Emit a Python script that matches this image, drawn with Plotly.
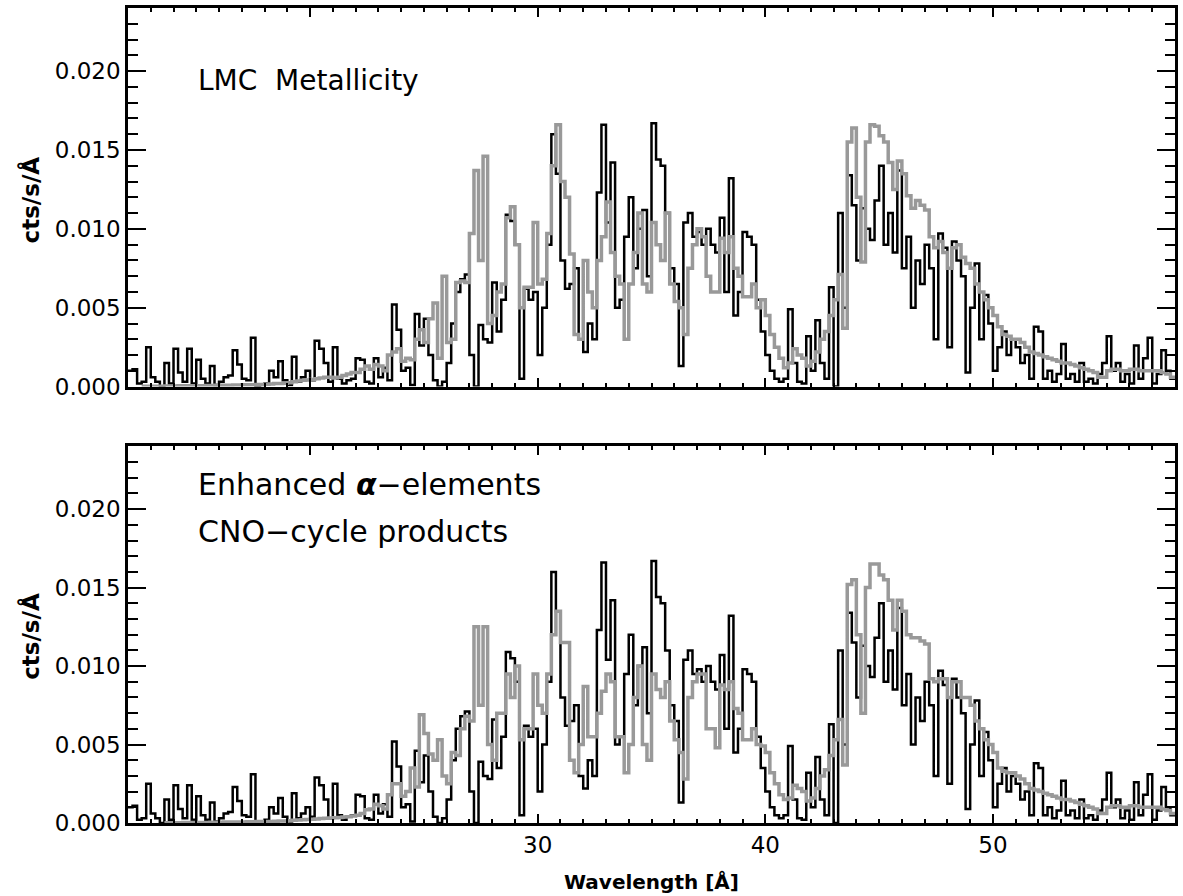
import numpy as np
import plotly.graph_objects as go

# ---------------- data (values in units of 1e-3 cts/s/Å) ----------------
bin_start = 12.0   # Å, left edge of first bin
bin_width = 0.2    # Å

# observed spectrum (same in both panels), bins from 12.0 Å to 58.0 Å
observed_mcts = [
    1.0, 1.1, 0.2, 0.3, 2.5, 0.6, 0.3, 0.0, 1.5, 0.2,      # 12-14
    2.4, 0.9, 0.3, 2.4, 0.2, 1.7, 0.5, 0.2, 1.3, 0.1,      # 14-16
    0.3, 0.6, 0.7, 2.3, 1.4, 0.5, 0.4, 3.1, 0.0, 0.1,      # 16-18
    0.2, 1.0, 0.6, 1.6, 0.4, 0.1, 1.9, 0.3, 0.6, 1.0,      # 18-20
    0.4, 2.9, 2.4, 1.5, 0.3, 2.5, 0.5, 0.2, 0.4, 0.5,      # 20-22
    1.8, 1.7, 0.3, 0.2, 1.8, 0.6, 1.2, 0.4, 5.2, 3.6,      # 22-24
    1.0, 1.2, 0.1, 4.6, 2.6, 4.3, 2.0, 0.4, 0.0, 0.3,      # 24-26
    1.5, 4.0, 6.0, 6.8, 7.1, 2.0, 0.0, 3.9, 3.0, 2.8,      # 26-28
    6.6, 3.5, 5.5, 10.9, 10.5, 9.0, 0.5, 6.2, 5.5, 6.0,    # 28-30
    2.0, 5.0, 9.0, 16.0, 13.5, 8.0, 6.2, 6.5, 7.5, 3.0,    # 30-32
    2.2, 4.0, 3.0, 12.3, 16.6, 10.4, 14.2, 5.0, 5.5, 9.5,  # 32-34
    12.0, 7.5, 10.0, 11.2, 7.0, 16.7, 14.4, 14.0, 11.0, 7.5,  # 34-36
    6.5, 1.3, 10.4, 11.0, 9.5, 9.8, 9.0, 10.0, 9.0, 8.5,   # 36-38
    10.7, 6.0, 13.2, 4.5, 6.0, 9.8, 9.5, 9.0, 5.5, 3.5,    # 38-40
    2.0, 1.0, 0.5, 0.3, 0.5, 4.9, 1.5, 0.3, 0.2, 3.2,      # 40-42
    1.0, 4.2, 1.5, 0.5, 6.3, 0.0, 11.0, 5.0, 13.4, 11.5,   # 42-44
    8.0, 11.3, 10.0, 9.3, 11.8, 14.0, 9.0, 11.0, 8.5, 13.7,  # 44-46
    7.5, 9.5, 5.0, 8.0, 6.5, 9.0, 7.5, 3.0, 9.7, 8.8,      # 46-48
    2.5, 9.2, 8.0, 7.0, 0.9, 5.0, 7.8, 3.0, 5.8, 4.0,      # 48-50
    1.0, 2.5, 3.5, 2.0, 3.0, 2.5, 1.5, 2.0, 0.5, 3.8,      # 50-52
    3.5, 0.5, 1.0, 0.3, 0.8, 2.7, 0.5, 0.8, 0.3, 1.5,      # 52-54
    0.3, 0.5, 0.2, 0.8, 1.5, 3.2, 1.0, 1.5, 0.3, 0.8,      # 54-56
    0.2, 2.6, 0.5, 1.8, 3.1, 0.2, 0.8, 2.3, 1.0, 0.5,      # 56-58
]

# model: LMC metallicity (top panel)
model_lmc_mcts = [
    None, None, None, 0.02, 0.02, 0.03, 0.03, 0.03, 0.04, 0.04,
    0.04, 0.05, 0.05, 0.05, 0.06, 0.06, 0.06, 0.07, 0.07, 0.08,
    0.08, 0.09, 0.09, 0.10, 0.10, 0.11, 0.11, 0.12, 0.13, 0.14,
    0.15, 0.17, 0.19, 0.20, 0.22, 0.25, 0.30, 0.35, 0.40, 0.42,
    0.45, 0.5, 0.55, 0.6, 0.6, 0.55, 0.6, 0.7, 0.8, 0.9,
    0.9, 1.1, 1.3, 1.1, 1.4, 1.3, 1.0, 2.0, 2.2, 2.4,
    1.6, 1.8, 1.7, 3.0, 3.6, 2.8, 4.3, 5.3, 1.8, 7.0,
    2.8, 3.0, 6.6, 6.7, 6.6, 9.7, 13.7, 8.0, 14.6, 4.0,
    4.5, 6.0, 6.5, 10.7, 11.4, 9.0, 5.0, 6.3, 6.3, 10.4,
    6.5, 6.8, 9.7, 14.0, 16.6, 13.0, 12.0, 8.4, 3.3, 3.0,
    8.0, 6.0, 5.0, 8.0, 9.5, 11.7, 8.5, 7.0, 6.5, 3.0,
    6.5, 8.5, 11.0, 6.5, 6.0, 10.4, 9.0, 8.0, 11.0, 6.5,
    5.4, 5.0, 3.3, 7.5, 9.0, 10.0, 9.5, 7.0, 6.0, 6.0,
    9.4, 8.5, 9.5, 7.5, 7.0, 5.7, 5.7, 6.5, 5.0, 5.5,
    4.5, 3.3, 2.5, 1.8, 1.2, 1.5, 2.4, 2.0, 1.8, 1.3,
    1.6, 2.2, 3.0, 3.5, 4.5, 5.5, 7.1, 3.7, 15.5, 16.4,
    12.0, 7.9, 15.5, 16.6, 16.5, 15.9, 15.5, 14.2, 12.5, 14.3,
    13.5, 12.1, 11.3, 11.8, 11.5, 11.2, 9.5, 8.8, 9.2, 8.5,
    7.5, 8.8, 9.0, 8.2, 7.8, 7.5, 6.5, 6.0, 5.5, 5.0,
    4.5, 3.8, 3.3, 3.2, 3.0, 3.0, 2.8, 2.5, 2.2, 2.1,
    2.0, 1.9, 1.8, 1.7, 1.6, 1.5, 1.5, 1.4, 1.3, 1.2,
    1.1, 1.0, 0.9, 0.6, 0.6, 1.0, 1.1, 1.1, 1.0, 1.0,
    1.1, 1.1, 1.0, 1.0, 1.0, 1.0, 1.0, 0.9, 0.8, 0.6,
]

# model: enhanced alpha-elements + CNO-cycle products (bottom panel)
model_alpha_mcts = [
    None, None, None, None, None, None, None, None, 0.02, 0.02,
    0.02, 0.02, 0.03, 0.03, 0.03, 0.04, 0.04, 0.04, 0.05, 0.05,
    0.05, 0.06, 0.06, 0.06, 0.07, 0.07, 0.08, 0.08, 0.09, 0.09,
    0.10, 0.10, 0.11, 0.12, 0.13, 0.15, 0.17, 0.19, 0.20, 0.22,
    0.24, 0.26, 0.28, 0.30, 0.32, 0.34, 0.35, 0.38, 0.40, 0.45,
    0.5, 0.6, 0.85, 0.9, 1.2, 1.1, 0.9, 1.8, 2.5, 2.5,
    1.7, 2.0, 3.5, 2.3, 6.9, 5.7, 4.4, 4.0, 5.3, 3.0,
    2.5, 4.5, 4.3, 6.0, 6.8, 6.5, 12.5, 7.5, 12.5, 5.0,
    4.0, 7.0, 7.0, 9.5, 8.0, 10.0, 5.3, 6.0, 6.0, 9.5,
    7.5, 7.0, 9.5, 12.0, 13.5, 11.5, 11.5, 4.0, 3.2, 5.0,
    8.7, 5.5, 5.5, 7.0, 8.4, 9.5, 9.0, 5.5, 5.5, 3.2,
    5.0, 8.0, 10.0, 5.0, 4.0, 9.5, 8.5, 8.0, 9.0, 6.5,
    5.3, 4.5, 2.8, 8.0, 9.0, 9.5, 9.5, 6.0, 6.0, 4.8,
    8.8, 8.5, 9.0, 7.3, 7.0, 5.3, 5.3, 6.0, 5.0, 4.9,
    4.5, 3.2, 2.5, 1.8, 1.5, 1.6, 2.4, 2.2, 2.0, 1.4,
    1.6, 2.2, 3.0, 3.4, 4.3, 5.3, 6.6, 3.7, 15.2, 15.5,
    12.0, 7.0, 15.0, 16.5, 16.5, 15.8, 15.5, 14.2, 12.3, 14.2,
    13.5, 12.0, 11.8, 11.8, 11.6, 11.4, 9.2, 9.0, 9.2, 9.2,
    8.0, 9.0, 9.0, 8.0, 8.0, 7.5, 6.5, 6.0, 5.3, 5.0,
    4.5, 3.5, 3.3, 3.2, 3.2, 3.0, 2.8, 2.5, 2.2, 2.1,
    2.0, 1.9, 1.8, 1.7, 1.6, 1.5, 1.5, 1.4, 1.3, 1.2,
    1.1, 1.0, 0.9, 0.6, 0.6, 1.0, 1.1, 1.1, 1.0, 1.0,
    1.1, 1.1, 1.0, 1.0, 1.0, 1.0, 1.0, 0.9, 0.8, 0.6,
]

x_range = [12, 58]
y_range = [0, 0.024]
x_tickvals = [20, 30, 40, 50]
y_tickvals = [0.000, 0.005, 0.010, 0.015, 0.020]

top_label = "LMC&nbsp; Metallicity"
bottom_labels = ["Enhanced <b><i>α</i></b>−elements", "CNO−cycle products"]
y_title = "<b>cts/s/Å</b>"
x_title = "<b>Wavelength [Å]</b>"

# ---------------- helpers ----------------
n_bins = len(observed_mcts)
edges = bin_start + bin_width * np.arange(n_bins + 1)


def step_xy(vals):
    v = [None if a is None else a * 1e-3 for a in vals]
    return edges.tolist(), v + [v[-1]]


FONT = "DejaVu Sans"
BLACK = "#000000"
GRAY = "#999999"

fig = go.Figure()
for xa, ya, model in (("x2", "y2", model_lmc_mcts), ("x", "y", model_alpha_mcts)):
    xs, ys = step_xy(observed_mcts)
    fig.add_trace(go.Scatter(x=xs, y=ys, mode="lines", line=dict(color=BLACK, width=2.5, shape="hv"),
                             xaxis=xa, yaxis=ya, showlegend=False, connectgaps=False))
    xs, ys = step_xy(model)
    fig.add_trace(go.Scatter(x=xs, y=ys, mode="lines", line=dict(color=GRAY, width=3.5, shape="hv"),
                             xaxis=xa, yaxis=ya, showlegend=False, connectgaps=False))

L, R, T, B = 128, 6, 5, 73
W, H = 1183, 896
ph = H - T - B
top_dom = [(823 - 385) / ph, 1.0]
bot_dom = [0.0, (823 - 445) / ph]

common_x = dict(range=x_range, tickvals=x_tickvals, ticks="inside", ticklen=9, tickwidth=2,
                tickcolor=BLACK, showline=True, linewidth=2.5, linecolor=BLACK, mirror="allticks",
                showgrid=False, zeroline=False,
                minor=dict(ticks="inside", ticklen=4, tickwidth=2, dtick=1, tick0=0, tickcolor=BLACK, showgrid=False),
                tickfont=dict(family=FONT, size=23, color=BLACK))
common_y = dict(range=y_range, tickvals=y_tickvals, tickformat=".3f", ticks="inside", ticklen=18, tickwidth=2,
                tickcolor=BLACK, showline=True, linewidth=2.5, linecolor=BLACK, mirror="allticks",
                showgrid=False, zeroline=False,
                minor=dict(ticks="inside", ticklen=10, tickwidth=2, dtick=0.001, tick0=0, tickcolor=BLACK, showgrid=False),
                tickfont=dict(family=FONT, size=23, color=BLACK))

fig.update_layout(
    width=W, height=H,
    margin=dict(l=L, r=R, t=T, b=B),
    paper_bgcolor="white", plot_bgcolor="white",
    font=dict(family=FONT, color=BLACK),
    xaxis=dict(**common_x, anchor="y", domain=[0, 1], showticklabels=True),
    yaxis=dict(**common_y, anchor="x", domain=bot_dom),
    xaxis2=dict(**common_x, anchor="y2", domain=[0, 1], showticklabels=False, matches="x"),
    yaxis2=dict(**common_y, anchor="x2", domain=top_dom),
)

pw = W - L - R
def px_x(p):
    return (p - L) / pw

def px_y(p):
    return (H - B - p) / ph

ann = []
ann.append(dict(text=top_label, x=px_x(196), y=px_y(78), xanchor="left", yanchor="middle",
                font=dict(family=FONT, size=28)))
ann.append(dict(text=bottom_labels[0], x=px_x(196), y=px_y(483), xanchor="left", yanchor="middle",
                font=dict(family=FONT, size=30)))
ann.append(dict(text=bottom_labels[1], x=px_x(196), y=px_y(530), xanchor="left", yanchor="middle",
                font=dict(family=FONT, size=30)))
for yc in (198, 636):
    ann.append(dict(text=y_title, x=px_x(30), y=px_y(yc), textangle=-90, xanchor="center", yanchor="middle",
                    font=dict(family=FONT, size=23)))
ann.append(dict(text=x_title, x=px_x(653), y=px_y(882), xanchor="center", yanchor="middle",
                font=dict(family=FONT, size=20)))
for a in ann:
    a.update(xref="paper", yref="paper", showarrow=False)
fig.update_layout(annotations=ann)

fig.write_html("out.html")
